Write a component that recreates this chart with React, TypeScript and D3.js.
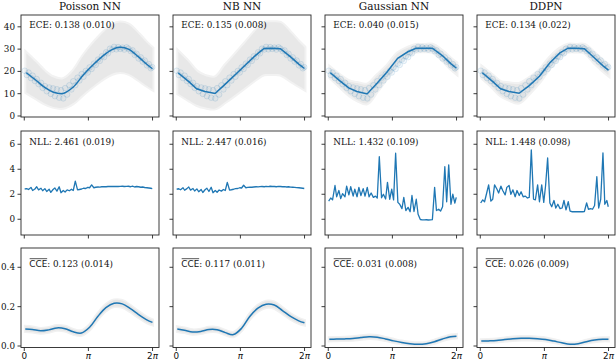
import React from "react";
import * as d3 from "d3";

// model names and the summary numbers printed in each panel
const models = ["Poisson NN", "NB NN", "Gaussian NN", "DDPN"];
const eceText = ["0.138 (0.010)", "0.135 (0.008)", "0.040 (0.015)", "0.134 (0.022)"];
const nllText = ["2.461 (0.019)", "2.447 (0.016)", "1.432 (0.109)", "1.448 (0.098)"];
const cceText = ["0.123 (0.014)", "0.117 (0.011)", "0.031 (0.008)", "0.026 (0.009)"];

// test points (shared by all models)
const dataX = [
  0.02, 0.12, 0.21, 0.33, 0.41, 0.52, 0.61, 0.7, 0.82, 0.9,
  1.01, 1.1, 1.22, 1.3, 1.41, 1.5, 1.6, 1.71, 1.8, 1.91,
  2.0, 2.1, 2.21, 2.31, 2.4, 2.5, 2.61, 2.7, 2.81, 2.9,
  3.01, 3.11, 3.2, 3.3, 3.41, 3.5, 3.61, 3.7, 3.8, 3.91,
  4.01, 4.1, 4.2, 4.31, 4.4, 4.51, 4.6, 4.7, 4.81, 4.9,
  5.01, 5.1, 5.21, 5.3, 5.41, 5.5, 5.6, 5.71, 5.8, 5.9,
  6.01, 6.1, 6.2, 6.27,
];
const dataY = [
  20.3, 18.4, 19.5, 17.0, 18.1, 15.7, 16.6, 14.3, 14.9, 12.6,
  13.4, 11.1, 12.8, 9.9, 12.4, 8.9, 12.0, 8.2, 11.6, 7.9,
  12.5, 9.6, 13.8, 11.9, 15.6, 13.8, 17.2, 15.9, 18.8, 17.6,
  20.2, 19.5, 21.8, 21.1, 23.5, 22.9, 25.3, 24.7, 26.8, 26.4,
  28.6, 28.1, 30.2, 29.8, 31.0, 29.9, 30.9, 30.1, 30.7, 29.8,
  30.8, 30.2, 29.1, 29.5, 27.4, 27.9, 25.8, 26.3, 24.4, 24.9,
  22.7, 23.3, 21.4, 21.9,
];

// predicted mean and interval (top row)
const meanX = [0.1, 0.6, 1.0, 1.4, 1.9, 2.4, 2.9, 3.4, 3.9, 4.3, 4.7, 5.1, 5.6, 6.0, 6.28];

const poissonMean = [19.4, 15.8, 12.8, 10.8, 10.1, 13.0, 18.5, 23.2, 27.3, 29.8, 30.8, 30.0, 26.5, 23.2, 21.2];
const poissonLo = [10.6, 7.8, 5.6, 4.2, 3.7, 5.8, 9.9, 13.6, 16.9, 18.9, 19.7, 19.0, 16.2, 13.6, 12.0];
const poissonHi = [28.2, 23.8, 20.0, 17.4, 16.5, 20.2, 27.1, 32.8, 37.7, 40.7, 41.9, 41.0, 36.8, 32.8, 30.4];

const nbMean = [19.3, 15.5, 12.2, 11.0, 10.1, 14.3, 18.6, 23.0, 27.3, 30.3, 30.4, 30.2, 26.5, 23.3, 21.3];
const nbLo = [10.0, 7.2, 5.0, 3.9, 3.4, 6.3, 9.6, 13.0, 16.5, 18.7, 18.8, 18.6, 15.8, 13.5, 12.0];
const nbHi = [28.8, 24.2, 20.0, 18.0, 17.3, 22.7, 27.8, 33.0, 38.3, 41.8, 42.0, 41.8, 37.4, 33.3, 30.8];

const gaussMean = [19.4, 15.5, 12.6, 11.0, 9.9, 14.8, 20.0, 25.9, 28.8, 30.4, 30.4, 30.4, 27.0, 23.5, 21.4];
const gaussLo = [17.2, 13.0, 9.6, 7.2, 5.7, 11.3, 17.4, 23.7, 27.0, 28.9, 29.0, 28.8, 25.0, 21.3, 19.1];
const gaussHi = [21.6, 18.0, 15.6, 14.8, 14.1, 18.3, 22.6, 28.1, 30.6, 31.9, 31.8, 32.0, 29.0, 25.7, 23.7];

const ddpnMean = [19.4, 15.5, 12.2, 11.0, 10.2, 13.6, 17.8, 23.8, 28.3, 30.4, 30.4, 30.2, 26.0, 22.6, 20.6];
const ddpnLo = [17.0, 12.9, 9.2, 7.3, 6.0, 10.2, 15.2, 21.5, 26.4, 28.8, 28.9, 28.5, 23.9, 20.4, 18.3];
const ddpnHi = [21.8, 18.1, 15.2, 14.7, 14.4, 17.0, 20.4, 26.1, 30.2, 32.0, 31.9, 31.9, 28.1, 24.8, 22.9];

// per-point NLL (middle row), same x as dataX
const nllPoisson = [
  2.42, 2.45, 2.38, 2.55, 2.3, 2.42, 2.6, 2.35, 2.48, 2.28,
  2.45, 2.22, 2.4, 2.15, 2.38, 2.5, 2.25, 2.6, 2.12, 2.3,
  2.18, 2.35, 2.28, 2.4, 2.3, 3.05, 2.35, 2.38, 2.42, 2.48,
  2.46, 2.55, 2.52, 2.75, 2.52, 2.56, 2.58, 2.57, 2.6, 2.61,
  2.6, 2.62, 2.62, 2.63, 2.62, 2.63, 2.62, 2.63, 2.64, 2.62,
  2.63, 2.64, 2.6, 2.65, 2.58, 2.62, 2.6, 2.56, 2.58, 2.54,
  2.52, 2.5, 2.48, 2.45,
];
const nllNB = [
  2.4, 2.44, 2.36, 2.52, 2.32, 2.45, 2.58, 2.33, 2.46, 2.26,
  2.43, 2.2, 2.38, 2.14, 2.36, 2.48, 2.22, 2.56, 2.12, 2.3,
  2.16, 2.34, 2.25, 2.38, 2.3, 2.95, 2.34, 2.36, 2.4, 2.45,
  2.46, 2.52, 2.5, 2.72, 2.52, 2.55, 2.57, 2.56, 2.58, 2.6,
  2.59, 2.61, 2.62, 2.6, 2.63, 2.61, 2.64, 2.62, 2.62, 2.6,
  2.63, 2.62, 2.6, 2.61, 2.58, 2.6, 2.57, 2.56, 2.55, 2.53,
  2.52, 2.5, 2.48, 2.46,
];
const nllGauss = [
  1.45, 1.7, 1.55, 2.7, 1.8, 2.3, 1.65, 2.05, 1.8, 2.65,
  1.95, 2.6, 1.85, 2.4, 1.8, 2.55, 1.9, 2.45, 1.85, 2.55,
  1.8, 2.1, 1.75, 1.85, 1.7, 5.0, 1.72, 2.0, 1.62, 2.95,
  1.6, 2.4, 1.55, 5.28, 1.35, 1.2, 0.85, 1.75, 0.7, 0.95,
  0.6, 1.9, 0.62, 1.6, 0.4, -0.02, -0.05, -0.05, -0.04, -0.06,
  -0.05, -0.03, 2.55, 0.7, 0.8, 0.65, 1.0, 4.2, 1.4, 4.35,
  1.2, 2.0, 1.3, 1.75,
];
const nllDDPN = [
  1.3, 1.55, 1.4, 2.2, 2.75, 1.45, 1.6, 2.75, 2.4, 2.1,
  2.65, 2.3, 1.95, 2.55, 2.7, 2.0, 2.35, 1.8, 2.3, 1.9,
  2.2, 1.8, 1.85, 1.7, 1.75, 5.55, 1.6, 1.55, 2.75, 1.4,
  2.75, 1.35, 2.7, 4.9, 1.3, 1.0, 1.5, 0.9, 1.2, 0.85,
  0.9, 1.5, 0.75, 1.4, 0.65, 0.6, 0.6, 0.6, 0.6, 0.61,
  0.6, 0.62, 1.3, 0.8, 0.85, 0.8, 1.1, 3.4, 0.9, 1.6,
  5.3, 1.2, 1.5, 1.0,
];

// CCE curves (bottom row)
const cceX = [0.05, 0.4, 0.8, 1.2, 1.6, 2.0, 2.4, 2.8, 3.2, 3.6, 4.0, 4.4, 4.8, 5.2, 5.6, 6.0, 6.28];
const ccePoisson = [0.087, 0.084, 0.077, 0.082, 0.092, 0.088, 0.072, 0.066, 0.095, 0.15, 0.195, 0.217, 0.214, 0.19, 0.16, 0.133, 0.12];
const cceNB = [0.086, 0.08, 0.071, 0.074, 0.084, 0.083, 0.068, 0.058, 0.09, 0.15, 0.192, 0.212, 0.208, 0.18, 0.15, 0.128, 0.118];
const cceGauss = [0.034, 0.035, 0.036, 0.038, 0.043, 0.047, 0.045, 0.036, 0.026, 0.018, 0.012, 0.009, 0.012, 0.022, 0.036, 0.047, 0.05];
const cceDDPN = [0.025, 0.026, 0.028, 0.033, 0.037, 0.039, 0.039, 0.037, 0.033, 0.025, 0.016, 0.009, 0.012, 0.022, 0.03, 0.034, 0.034];
const cceSpreadPoisson = [0.013, 0.013, 0.012, 0.012, 0.012, 0.012, 0.012, 0.012, 0.013, 0.015, 0.016, 0.017, 0.017, 0.016, 0.015, 0.014, 0.013];
const cceSpreadNB = [0.012, 0.012, 0.011, 0.011, 0.011, 0.011, 0.011, 0.011, 0.012, 0.014, 0.015, 0.016, 0.016, 0.015, 0.014, 0.013, 0.012];
const cceSpreadGauss = [0.008, 0.008, 0.008, 0.009, 0.009, 0.009, 0.009, 0.008, 0.008, 0.007, 0.007, 0.007, 0.007, 0.008, 0.008, 0.009, 0.009];
const cceSpreadDDPN = [0.007, 0.007, 0.008, 0.008, 0.009, 0.009, 0.009, 0.008, 0.008, 0.007, 0.006, 0.006, 0.006, 0.007, 0.008, 0.008, 0.008];

const xTicks = [0, Math.PI, 2 * Math.PI];

// layout
const colLeft = [21, 173, 325, 477];
const colWidth = 138;
const rowTop = [15, 131, 248];
const rowBottom = [117, 235, 347.5];
const xDomain: [number, number] = [-0.16, 6.6];
const rowDomain: [number, number][] = [[-0.45, 45.3], [-1.26, 7.06], [-0.0076, 0.498]];
const rowTicks = [[0, 10, 20, 30, 40], [0, 2, 4, 6], [0, 0.2, 0.4]];
const rowFmt = [d3.format("d"), d3.format("d"), d3.format(".1f")];
const labelY = [39.3, 5.92, 0.4];

const blue = "#1f77b4";
const axisColor = "#262626";

const topSets = [
  { mean: poissonMean, lo: poissonLo, hi: poissonHi, smooth: true },
  { mean: nbMean, lo: nbLo, hi: nbHi, smooth: false },
  { mean: gaussMean, lo: gaussLo, hi: gaussHi, smooth: false },
  { mean: ddpnMean, lo: ddpnLo, hi: ddpnHi, smooth: false },
];
const nllSets = [nllPoisson, nllNB, nllGauss, nllDDPN];
const cceSets = [
  { mean: ccePoisson, spread: cceSpreadPoisson },
  { mean: cceNB, spread: cceSpreadNB },
  { mean: cceGauss, spread: cceSpreadGauss },
  { mean: cceDDPN, spread: cceSpreadDDPN },
];

function scales(row: number, col: number) {
  const x = d3.scaleLinear().domain(xDomain).range([colLeft[col], colLeft[col] + colWidth]);
  const y = d3.scaleLinear().domain(rowDomain[row]).range([rowBottom[row], rowTop[row]]);
  return { x, y };
}

function Axes({ row, col }: { row: number; col: number }) {
  const { x, y } = scales(row, col);
  const left = colLeft[col];
  const top = rowTop[row];
  const bottom = rowBottom[row];
  return (
    <g>
      <rect x={left} y={top} width={colWidth} height={bottom - top} fill="none" stroke={axisColor} strokeWidth={0.9} />
      {rowTicks[row].map((t) => (
        <g key={t}>
          <line x1={left - 3.5} x2={left} y1={y(t)} y2={y(t)} stroke={axisColor} strokeWidth={0.9} />
          {col === 0 && (
            <text x={left - 6} y={y(t)} dy="0.35em" textAnchor="end" fontSize={8.8} fill="#111">
              {rowFmt[row](t)}
            </text>
          )}
        </g>
      ))}
      {xTicks.map((t, i) => (
        <g key={i}>
          <line x1={x(t)} x2={x(t)} y1={bottom} y2={bottom + 3.5} stroke={axisColor} strokeWidth={0.9} />
          {row === 2 && (
            <text x={x(t)} y={bottom + 11.5} textAnchor="middle" fontFamily="DejaVu Sans" fontSize={8.8} fill="#111">
              {i === 0 ? "0" : i === 1 ? <tspan fontStyle="italic">π</tspan> : <>2<tspan fontStyle="italic">π</tspan></>}
            </text>
          )}
        </g>
      ))}
    </g>
  );
}

function TopPanel({ col }: { col: number }) {
  const { x, y } = scales(0, col);
  const s = topSets[col];
  const band = d3.area<number>()
    .x((_, i) => x(meanX[i]))
    .y0((_, i) => y(s.lo[i]))
    .y1((d) => y(d))
    .curve(d3.curveCatmullRom);
  const line = d3.line<number>()
    .x((_, i) => x(meanX[i]))
    .y((d) => y(d))
    .curve(s.smooth ? d3.curveCatmullRom : d3.curveLinear);
  return (
    <g clipPath={`url(#clip-0-${col})`}>
      <path d={band(s.hi) ?? ""} fill="#f2f2f2" stroke="#f2f2f2" strokeWidth={4} />
      <path d={band(s.hi) ?? ""} fill="#e8e8e8" />
      {dataX.map((dx, i) => (
        <circle key={i} cx={x(dx)} cy={y(dataY[i])} r={2.8} fill={blue} fillOpacity={0.05}
          stroke={blue} strokeOpacity={0.17} strokeWidth={0.8} />
      ))}
      <path d={line(s.mean) ?? ""} fill="none" stroke={blue} strokeWidth={1.5} />
    </g>
  );
}

function NllPanel({ col }: { col: number }) {
  const { x, y } = scales(1, col);
  const line = d3.line<number>().x((_, i) => x(dataX[i])).y((d) => y(d));
  return (
    <g clipPath={`url(#clip-1-${col})`}>
      <path d={line(nllSets[col]) ?? ""} fill="none" stroke={blue} strokeWidth={1.3} strokeLinejoin="round" />
    </g>
  );
}

function CcePanel({ col }: { col: number }) {
  const { x, y } = scales(2, col);
  const s = cceSets[col];
  const band = d3.area<number>()
    .x((_, i) => x(cceX[i]))
    .y0((d, i) => y(d - s.spread[i]))
    .y1((d, i) => y(d + s.spread[i]))
    .curve(d3.curveCatmullRom);
  const line = d3.line<number>().x((_, i) => x(cceX[i])).y((d) => y(d)).curve(d3.curveCatmullRom);
  return (
    <g clipPath={`url(#clip-2-${col})`}>
      <path d={band(s.mean) ?? ""} fill="#f1f1f1" stroke="#f1f1f1" strokeWidth={3} />
      <path d={band(s.mean) ?? ""} fill="#e6e6e6" />
      <path d={line(s.mean) ?? ""} fill="none" stroke={blue} strokeWidth={1.5} />
    </g>
  );
}

function Labels({ col }: { col: number }) {
  const rows = [0, 1, 2].map((r) => scales(r, col));
  const lx = rows[0].x(0.25);
  const cceBase = rows[2].y(labelY[2]);
  return (
    <g fontSize={8.8} fill="#111">
      <text x={(colLeft[col] + colWidth / 2)} y={10} textAnchor="middle" fontSize={10.5}>{models[col]}</text>
      <text x={lx} y={rows[0].y(labelY[0])}>ECE: {eceText[col]}</text>
      <text x={lx} y={rows[1].y(labelY[1])}>NLL: {nllText[col]}</text>
      <line x1={lx + 0.3} x2={lx + 17.8} y1={cceBase - 8.6} y2={cceBase - 8.6} stroke="#111" strokeWidth={0.7} />
      <text x={lx} y={cceBase}>
        <tspan fontFamily="DejaVu Sans">CCE</tspan>: {cceText[col]}
      </text>
    </g>
  );
}

export default function App() {
  return (
    <svg width={616} height={362} style={{ position: "absolute", left: 0, top: 0 }} fontFamily="DejaVu Serif">
      <rect width={616} height={362} fill="white" />
      <defs>
        {[0, 1, 2].map((r) =>
          colLeft.map((l, c) => (
            <clipPath key={`${r}-${c}`} id={`clip-${r}-${c}`}>
              <rect x={l} y={rowTop[r]} width={colWidth} height={rowBottom[r] - rowTop[r]} />
            </clipPath>
          ))
        )}
      </defs>
      {models.map((m, c) => (
        <g key={m}>
          <TopPanel col={c} />
          <NllPanel col={c} />
          <CcePanel col={c} />
          {[0, 1, 2].map((r) => <Axes key={r} row={r} col={c} />)}
          <Labels col={c} />
        </g>
      ))}
    </svg>
  );
}
